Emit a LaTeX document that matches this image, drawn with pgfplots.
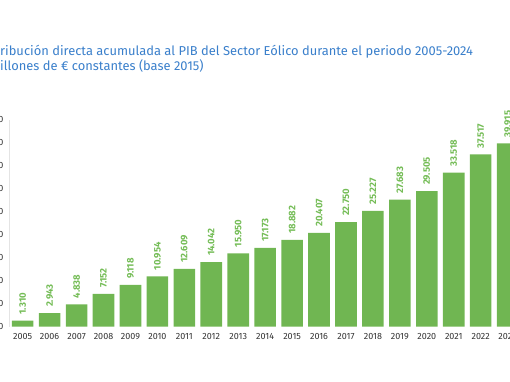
\documentclass[border=0pt]{standalone}
\usepackage{pgfplots}
\pgfplotsset{compat=1.18}
\usepackage{fontspec}
\setmainfont{Fira Sans}
\definecolor{bargreen}{HTML}{70B652}
\definecolor{labgreen}{HTML}{74BC56}
\definecolor{titleblue}{HTML}{3A7FCB}
\definecolor{axgray}{HTML}{333333}
\definecolor{axline}{HTML}{E4E4E4}
\begin{document}
\begin{tikzpicture}
\begin{axis}[
  scale only axis,
  width=512.08pt, height=206.7pt,
  xmin=-0.508, xmax=18.5,
  ymin=0, ymax=45000,
  enlargelimits=false,
  clip=false,
  axis lines=left,
  axis line style={-},
  x axis line style={draw=none},
  y axis line style={axline, line width=0.8pt},
  major tick length=0pt,
  scaled y ticks=false,
  ytick={0,5000,...,45000},
  xtick={0,...,18},
  xticklabels={2005,2006,2007,2008,2009,2010,2011,2012,2013,2014,2015,2016,2017,2018,2019,2020,2021,2022,2023},
  /pgf/number format/.cd, 1000 sep={.}, assume math mode=true, /pgfplots/.cd,
  yticklabel style={font=\fontsize{9}{10}\selectfont, color=axgray, inner sep=0pt, xshift=-5.5pt},
  xticklabel style={font=\fontsize{9}{10}\selectfont, color=axgray, inner sep=0pt, yshift=-6pt},
  ybar, bar width=21.6pt,
  nodes near coords,
  every node near coord/.append style={rotate=90, anchor=west, font=\bfseries\fontsize{9.5}{10}\selectfont, color=labgreen, inner xsep=6pt, inner ysep=0pt},
]
\addplot[fill=bargreen, draw=none] table {
x y
0 1310
1 2943
2 4838
3 7152
4 9118
5 10954
6 12609
7 14042
8 15950
9 17173
10 18882
11 20407
12 22750
13 25227
14 27683
15 29505
16 33518
17 37517
18 39915
};
\coordinate (BL) at (axis cs:-0.8426,-12039);
\coordinate (TR) at (axis cs:18.088,71124);
\coordinate (T1) at (axis cs:-0.8426,58934);
\coordinate (T2) at (axis cs:-0.8426,55668);
\end{axis}
\node[anchor=base west, inner sep=0pt, color=titleblue, font=\fontsize{12.9}{14}\selectfont] at (T1) {\llap{Cont}ribución directa acumulada al PIB del Sector Eólico durante el periodo 2005-2024};
\node[anchor=base west, inner sep=0pt, color=titleblue, font=\fontsize{12.9}{14}\selectfont] at (T2) {\llap{M}illones de € constantes (base 2015)};
\pgfresetboundingbox
\path[use as bounding box] (BL) rectangle (TR);
\end{tikzpicture}
\end{document}
